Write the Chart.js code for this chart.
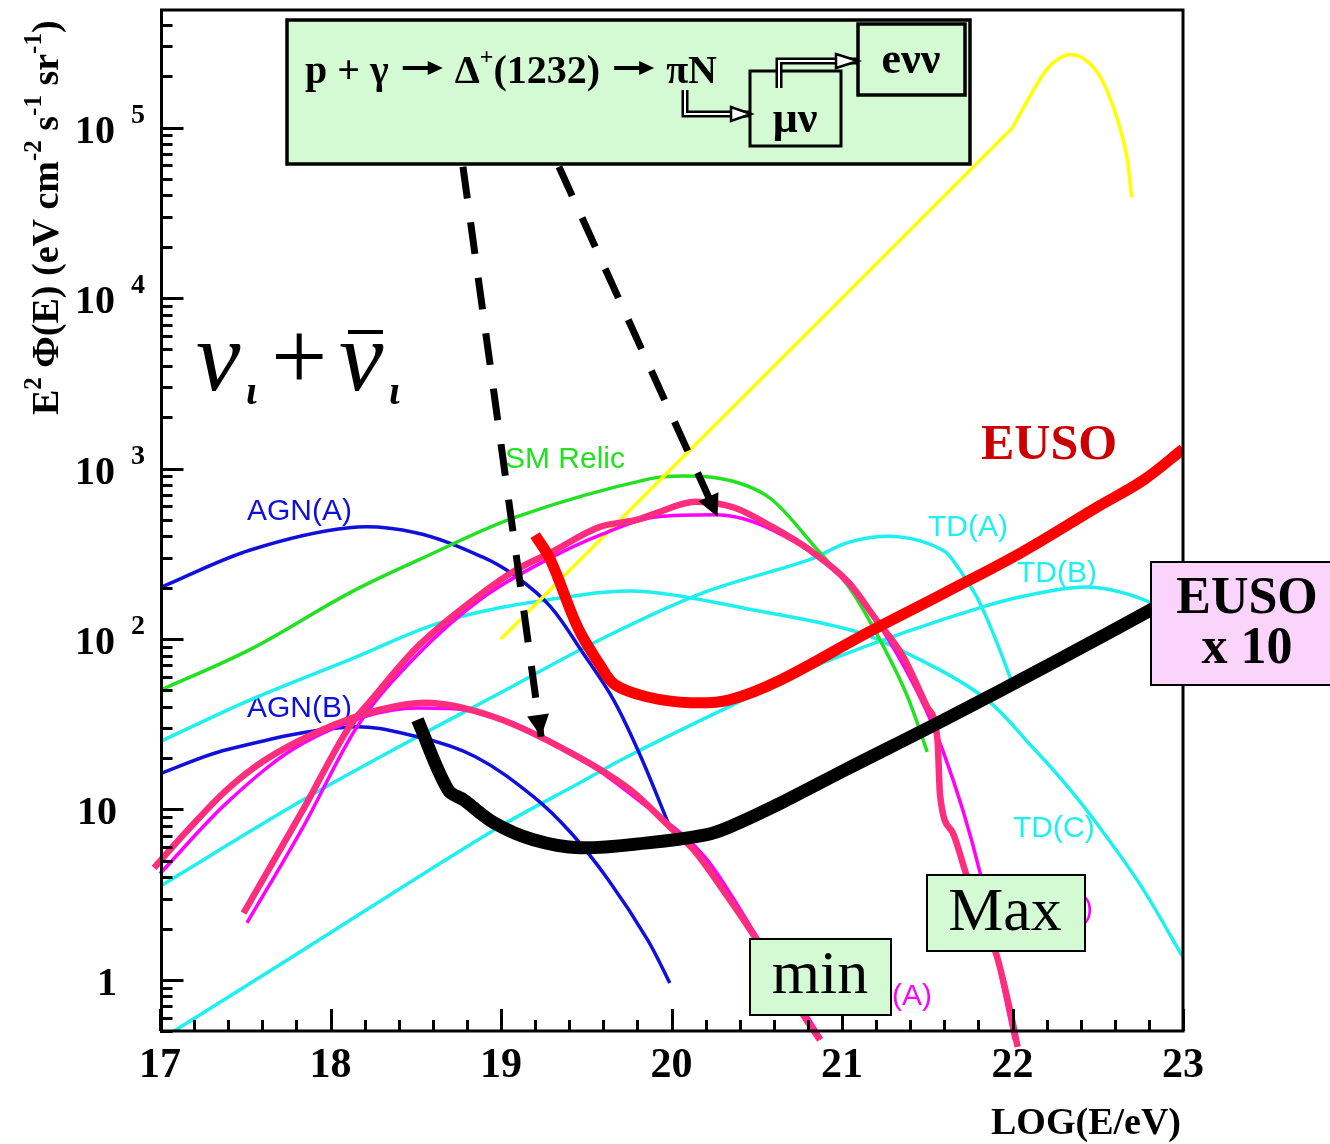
<!DOCTYPE html>
<html><head><meta charset="utf-8">
<script src="https://cdn.jsdelivr.net/npm/chart.js@4/dist/chart.umd.min.js"></script>
<style>html,body{margin:0;padding:0;background:#fff;}#wrap{width:1330px;height:1144px;}</style>
</head><body><div id="wrap"><canvas id="c" width="1330" height="1144"></canvas></div>
<script>
// ---------- DATA (x = LOG(E/eV), y = E^2 Phi(E) in eV cm^-2 s^-1 sr^-1) ----------
const xRange = [17, 23];
const yRange = [0.495, 4.9e5];
const xTickValues = [17, 18, 19, 20, 21, 22, 23];
const xTickLabels = ['17', '18', '19', '20', '21', '22', '23'];
const yTickValues = [1, 10, 100, 1000, 10000, 100000];
const yTickBase = ['1', '10', '10', '10', '10', '10'];
const yTickExp = ['', '', '2', '3', '4', '5'];

const agnA_E = [17.0, 17.53, 18.11, 18.5, 18.89, 19.09, 19.29, 19.48, 19.66, 19.82, 19.99];
const agnA_F = [200, 333, 450, 420, 303, 232, 155, 83, 44, 20.4, 7.9];

const agnB_E = [17.0, 17.39, 18.11, 18.51, 18.85, 19.19, 19.41, 19.63, 19.86, 19.99];
const agnB_F = [16.2, 22.4, 30.5, 26.7, 20.4, 11.9, 7.3, 3.86, 1.72, 0.96];

const smRelic_E = [17.0, 17.53, 18.11, 18.52, 19.09, 19.87, 20.16, 20.4, 20.59, 20.84, 21.04, 21.2, 21.375, 21.5];
const smRelic_F = [50, 87, 186, 292, 521, 870, 900, 820, 656, 348, 202, 109, 48.3, 21.8];

const yellowLine_E = [19.0, 22.0];
const yellowLine_F = [100, 1.0e5];
const yellowPeak_E = [22.0, 22.1, 22.2, 22.28, 22.34, 22.41, 22.5, 22.57, 22.63, 22.67, 22.7];
const yellowPeak_F = [1.0e5, 1.51e5, 2.19e5, 2.57e5, 2.69e5, 2.57e5, 2.1e5, 1.51e5, 1.0e5, 6.8e4, 3.9e4];

const tdA_E = [17.0, 17.84, 18.51, 18.92, 19.58, 20.18, 20.81, 21.05, 21.33, 21.59, 21.69, 21.79, 21.885, 21.985, 22.0];
const tdA_F = [3.55, 11.4, 26.7, 44, 99, 186, 292, 372, 398, 333, 255, 177, 109, 60, 52];

const tdB_E = [17.0, 17.84, 18.96, 19.46, 19.74, 20.36, 20.93, 21.83, 22.27, 22.5, 22.77, 23.0];
const tdB_F = [0.445, 1.5, 7.59, 14.3, 20.4, 41.1, 75.5, 155, 195, 200, 170, 125];

const tdC_E = [17.0, 17.53, 18.11, 18.7, 19.48, 19.87, 20.48, 21.05, 21.34, 21.83, 22.12, 22.3, 22.5, 22.75, 23.0];
const tdC_F = [25, 44, 75.5, 130, 182, 189, 148, 113, 86.5, 45.7, 23.0, 14.5, 8.13, 3.61, 1.36];

const euso_E = [19.2, 19.29, 19.45, 19.58, 19.67, 19.86, 20.11, 20.34, 20.64, 21.15, 21.6, 22.05, 22.5, 22.77, 23.0];
const euso_F = [407, 292, 117, 70.6, 53.8, 45.7, 42.3, 44, 57.5, 109, 186, 321, 597, 859, 1300];

const euso10_E = [18.51, 18.69, 18.78, 18.96, 19.19, 19.46, 19.86, 20.2, 20.34, 20.64, 21.02, 21.6, 22.27, 22.81, 23.0];
const euso10_F = [33.6, 13, 11.4, 8.34, 6.64, 5.96, 6.37, 7.1, 7.9, 10.9, 17.1, 33.6, 75.5, 148, 189];

const pinkMin_E = [16.965, 17.164, 17.39, 17.616, 17.95, 18.29, 18.557, 18.96, 19.41, 19.76, 19.99, 20.13, 20.33, 20.5, 20.78, 20.87];
const pinkMin_F = [4.54, 7.59, 13, 19.5, 29.3, 38.5, 42.3, 34.9, 21.5, 13, 7.91, 5.79, 3.07, 1.72, 0.607, 0.445];

const magMin_E = [17.0, 17.39, 17.84, 18.51, 18.88, 19.41, 19.86, 20.2, 20.5, 20.88];
const magMin_F = [4.2, 10.9, 24.5, 39.4, 37, 21.7, 10.3, 5.2, 1.8, 0.45];

const pinkMax_E = [17.49, 17.84, 18.11, 18.24, 18.51, 18.89, 19.09, 19.29, 19.58, 19.8, 19.915, 20.14, 20.37, 20.59, 20.81, 21.04, 21.2, 21.36, 21.5, 21.56, 21.575, 21.65, 21.73, 21.91, 21.985, 22.03];
const pinkMax_F = [2.47, 10, 30.5, 44, 90, 186, 255, 321, 455, 501, 550, 638, 589, 455, 333, 214, 130, 78.7, 39.8, 25.6, 12.2, 7.3, 4.13, 1.36, 0.667, 0.405];

const magMax_E = [17.51, 17.84, 18.155, 18.51, 18.89, 19.29, 19.58, 19.915, 20.255, 20.59, 21.04, 21.375, 21.59, 21.81, 21.94, 22.01];
const magMax_F = [2.16, 7.91, 30.5, 80.8, 174, 299, 407, 521, 536, 437, 208, 65.9, 22.4, 4.25, 0.96, 0.445];

// dashed arrows (start at box, end at tip), in data units
const arrow1_E = [18.777, 19.235];
const arrow1_F = [5.9e4, 26.7];
const arrow2_E = [19.34, 20.27];
const arrow2_F = [5.9e4, 521];

// ---------- STYLE ----------
const BLUE = '#1010dc', GREEN = '#22e022', CYAN = '#1ef0f0', YELLOW = '#ffff00',
      MAGENTA = '#ff00ff', PINK = '#ff2d7d', RED = '#ff0000', BLACK = '#000000';
const BOXGREEN = '#d4fad4', BOXPINK = '#fad4fa';
const SERIF = '"Liberation Serif", "Times New Roman", serif';
const SANS = '"Liberation Sans", Arial, sans-serif';

function series(E, F) { return E.map((e, i) => ({ x: e, y: F[i] })); }
function smooth(data, color, width, order, extra) {
  return Object.assign({ data, borderColor: color, borderWidth: width, order,
    pointRadius: 0, fill: false, tension: 0.35, cubicInterpolationMode: 'default' }, extra || {});
}
function mono(data, color, width, order, extra) {
  return Object.assign({ data, borderColor: color, borderWidth: width, order,
    pointRadius: 0, fill: false, cubicInterpolationMode: 'monotone' }, extra || {});
}
function straight(data, color, width, order, extra) {
  return Object.assign({ data, borderColor: color, borderWidth: width, order,
    pointRadius: 0, fill: false, tension: 0 }, extra || {});
}

const datasets = [
  smooth(series(tdC_E, tdC_F), CYAN, 3.5, 100),
  smooth(series(tdA_E, tdA_F), CYAN, 3.5, 99),
  smooth(series(tdB_E, tdB_F), CYAN, 3.5, 98),
  smooth(series(agnA_E, agnA_F), BLUE, 3.5, 97),
  smooth(series(agnB_E, agnB_F), BLUE, 3.5, 96),
  smooth(series(smRelic_E, smRelic_F), GREEN, 3.5, 95),
  straight(series(yellowLine_E, yellowLine_F), YELLOW, 3.5, 94),
  smooth(series(yellowPeak_E, yellowPeak_F), YELLOW, 3.5, 93),
  mono(series(magMin_E, magMin_F), MAGENTA, 3.5, 90, { clip: false }),
  mono(series(magMax_E, magMax_F), MAGENTA, 3.5, 89, { clip: false }),
  mono(series(pinkMin_E, pinkMin_F), PINK, 6.5, 80, { clip: false }),
  mono(series(pinkMax_E, pinkMax_F), PINK, 6.5, 79, { clip: false }),
  smooth(series(euso_E, euso_F), RED, 11, 70),
  smooth(series(euso10_E, euso10_F), BLACK, 13, 60),
  straight(series(arrow1_E, arrow1_F), BLACK, 7, 10, { borderDash: [32, 24], clip: false }),
  straight(series(arrow2_E, arrow2_F), BLACK, 7, 9, { borderDash: [32, 24], clip: false }),
];

// ---------- DRAWING HELPERS ----------
function text(ctx, s, x, y, font, color, align) {
  ctx.font = font; ctx.fillStyle = color || '#000';
  ctx.textAlign = align || 'left'; ctx.textBaseline = 'alphabetic';
  ctx.fillText(s, x, y);
  return ctx.measureText(s).width;
}
function box(ctx, x, y, w, h, fill, lw) {
  ctx.fillStyle = fill; ctx.fillRect(x, y, w, h);
  ctx.lineWidth = lw; ctx.strokeStyle = '#000'; ctx.strokeRect(x, y, w, h);
}
function solidArrow(ctx, x, y, w) {
  ctx.save();
  ctx.fillStyle = '#000';
  ctx.fillRect(x, y - 2, w - 12, 4);
  ctx.beginPath(); ctx.moveTo(x + w, y); ctx.lineTo(x + w - 15, y - 7); ctx.lineTo(x + w - 15, y + 7); ctx.closePath();
  ctx.fill();
  ctx.restore();
  return w;
}
function hollowArrow(ctx, pts, head) {
  ctx.save();
  ctx.lineJoin = 'miter'; ctx.lineCap = 'butt';
  ctx.beginPath(); ctx.moveTo(pts[0][0], pts[0][1]);
  for (let i = 1; i < pts.length; i++) ctx.lineTo(pts[i][0], pts[i][1]);
  ctx.strokeStyle = '#000'; ctx.lineWidth = 7; ctx.stroke();
  ctx.strokeStyle = '#ffffff'; ctx.lineWidth = 2; ctx.stroke();
  const [tx, ty] = pts[pts.length - 1];
  ctx.beginPath(); ctx.moveTo(tx, ty); ctx.lineTo(tx - head, ty - 7); ctx.lineTo(tx - head, ty + 7); ctx.closePath();
  ctx.fillStyle = '#ffffff'; ctx.fill(); ctx.lineWidth = 2.5; ctx.strokeStyle = '#000'; ctx.stroke();
  ctx.restore();
}
function arrowHead(chart, E, F) {
  const xs = chart.scales.x, ys = chart.scales.y, ctx = chart.ctx;
  const x0 = xs.getPixelForValue(E[0]), y0 = ys.getPixelForValue(F[0]);
  const x1 = xs.getPixelForValue(E[1]), y1 = ys.getPixelForValue(F[1]);
  const a = Math.atan2(y1 - y0, x1 - x0);
  const L = 22, W = 11;
  ctx.save(); ctx.translate(x1, y1); ctx.rotate(a);
  ctx.beginPath(); ctx.moveTo(0, 0); ctx.lineTo(-L, -W); ctx.lineTo(-L, W); ctx.closePath();
  ctx.fillStyle = '#000'; ctx.fill(); ctx.restore();
}

const deco = {
  id: 'deco',
  beforeDatasetsDraw(chart) {
    const ctx = chart.ctx;
    ctx.save();
    const f = '30px ' + SANS;
    text(ctx, 'AGN(A)', 247, 520, f, BLUE);
    text(ctx, 'AGN(B)', 247, 717, f, BLUE);
    text(ctx, 'SM Relic', 505, 468, f, GREEN);
    text(ctx, 'TD(A)', 928, 536, f, CYAN);
    text(ctx, 'TD(B)', 1017, 582, f, CYAN);
    text(ctx, 'TD(C)', 1013, 837, f, CYAN);
    text(ctx, '(A)', 892, 1005, f, MAGENTA);
    text(ctx, '(B)', 1093, 918, f, MAGENTA, 'right');
    ctx.restore();
  },
  afterDatasetsDraw(chart) {
    const ctx = chart.ctx, xs = chart.scales.x, ys = chart.scales.y, ca = chart.chartArea;
    ctx.save();
    arrowHead(chart, arrow1_E, arrow1_F);
    arrowHead(chart, arrow2_E, arrow2_F);

    // frame
    ctx.strokeStyle = '#000'; ctx.lineWidth = 3;
    ctx.strokeRect(ca.left + 1.5, ca.top, ca.right - ca.left - 1.5, ca.bottom - ca.top - 1);
    // y ticks
    ctx.lineWidth = 3;
    for (let d = -1; d <= 5; d++) {
      for (let m = 1; m <= 9; m++) {
        const v = m * Math.pow(10, d);
        if (v < yRange[0] || v > yRange[1]) continue;
        const y = Math.round(ys.getPixelForValue(v)) + 0.5;
        const len = m === 1 ? 22 : 11;
        ctx.beginPath(); ctx.moveTo(ca.left, y); ctx.lineTo(ca.left + 1.5 + len, y); ctx.stroke();
      }
    }
    // x ticks
    for (let i = 0; i <= 30; i++) {
      const t = xRange[0] + i * 0.2;
      const x = Math.round(xs.getPixelForValue(t)) + 0.5;
      const len = i % 5 === 0 ? 22 : 11;
      ctx.beginPath(); ctx.moveTo(x, ca.bottom - 1); ctx.lineTo(x, ca.bottom - 1 - len); ctx.stroke();
    }
    // x tick labels
    xTickValues.forEach((v, i) => {
      text(ctx, xTickLabels[i], xs.getPixelForValue(v), 1077, 'bold 42px ' + SERIF, '#000', 'center');
    });
    // y tick labels
    yTickValues.forEach((v, i) => {
      const y = ys.getPixelForValue(v);
      if (yTickExp[i] === '') {
        text(ctx, yTickBase[i], 117, y + 15, 'bold 40px ' + SERIF, '#000', 'right');
      } else {
        text(ctx, yTickBase[i], 115, y + 15, 'bold 40px ' + SERIF, '#000', 'right');
        text(ctx, yTickExp[i], 131, y - 5, 'bold 28px ' + SERIF, '#000', 'left');
      }
    });
    // x title
    text(ctx, 'LOG(E/eV)', 1181, 1134, 'bold 38px ' + SERIF, '#000', 'right');
    // y title (rotated)
    ctx.save();
    ctx.translate(58, 415); ctx.rotate(-Math.PI / 2);
    let cx = 0;
    const big = 'bold 38px ' + SERIF, sup = 'bold 25px ' + SERIF;
    const parts = [['E', big, 0], ['2', sup, -17], [' \u03A6(E) (eV cm', big, 0], ['-2', sup, -17],
                   [' s', big, 0], ['-1', sup, -17], [' sr', big, 0], ['-1', sup, -17], [')', big, 0]];
    for (const [s, f, dy] of parts) { cx += text(ctx, s, cx, dy, f, '#000', 'left'); }
    ctx.restore();

    // nu label
    ctx.save();
    text(ctx, '\u03BD', 196, 390, 'italic 100px ' + SERIF, '#000', 'left');
    text(ctx, '\u03B9', 246, 404, 'bold italic 40px ' + SERIF, '#000', 'left');
    text(ctx, '+', 271, 390, '100px ' + SERIF, '#000', 'left');
    text(ctx, '\u03BD', 339, 390, 'italic 100px ' + SERIF, '#000', 'left');
    text(ctx, '\u03B9', 389, 404, 'bold italic 40px ' + SERIF, '#000', 'left');
    ctx.fillStyle = '#000'; ctx.fillRect(348, 330, 35, 4);
    ctx.restore();

    // EUSO red label
    text(ctx, 'EUSO', 981, 459, 'bold 50px ' + SERIF, '#cc0000', 'left');

    // formula box
    box(ctx, 287, 20, 683, 144, BOXGREEN, 3.5);
    box(ctx, 750, 71, 91, 75, BOXGREEN, 3);
    box(ctx, 858, 24, 107, 71, BOXGREEN, 3.5);
    const FB = 'bold 40px ' + SERIF;
    let fx = 305;
    fx += text(ctx, 'p + \u03B3', fx, 83, FB);
    fx += 14; fx += solidArrow(ctx, fx, 68, 40); fx += 12;
    fx += text(ctx, '\u0394', fx, 83, FB);
    fx += text(ctx, '+', fx, 64, 'bold 24px ' + SERIF);
    fx += text(ctx, '(1232)', fx, 83, FB);
    fx += 14; fx += solidArrow(ctx, fx, 68, 40); fx += 12;
    text(ctx, '\u03C0N', fx, 83, FB);
    text(ctx, '\u03BC\u03BD', 795, 132, 'bold 44px ' + SERIF, '#000', 'center');
    text(ctx, 'e\u03BD\u03BD', 911, 73, 'bold 44px ' + SERIF, '#000', 'center');
    hollowArrow(ctx, [[685, 90], [685, 114], [751, 114]], 20);
    hollowArrow(ctx, [[779, 88], [779, 61], [858, 61]], 22);

    // EUSO x 10 box
    box(ctx, 1151, 562, 200, 123, BOXPINK, 2);
    text(ctx, 'EUSO', 1247, 613, 'bold 52px ' + SERIF, '#000', 'center');
    text(ctx, 'x 10', 1247, 663, 'bold 52px ' + SERIF, '#000', 'center');

    // Max / min boxes
    box(ctx, 927, 875, 158, 76, BOXGREEN, 2);
    text(ctx, 'Max', 1005, 930, '62px ' + SERIF, '#000', 'center');
    box(ctx, 750, 939, 141, 76, BOXGREEN, 2);
    text(ctx, 'min', 820, 993, '62px ' + SERIF, '#000', 'center');
    ctx.restore();
  }
};

new Chart(document.getElementById('c'), {
  type: 'line',
  data: { datasets },
  options: {
    responsive: false, animation: false, devicePixelRatio: 1,
    layout: { padding: { left: 160, right: 147, top: 10, bottom: 112 } },
    plugins: { legend: { display: false }, tooltip: { enabled: false } },
    elements: { line: { borderJoinStyle: 'round' } },
    scales: {
      x: { type: 'linear', min: xRange[0], max: xRange[1], display: false },
      y: { type: 'logarithmic', min: yRange[0], max: yRange[1], display: false }
    }
  },
  plugins: [deco]
});
</script></body></html>
